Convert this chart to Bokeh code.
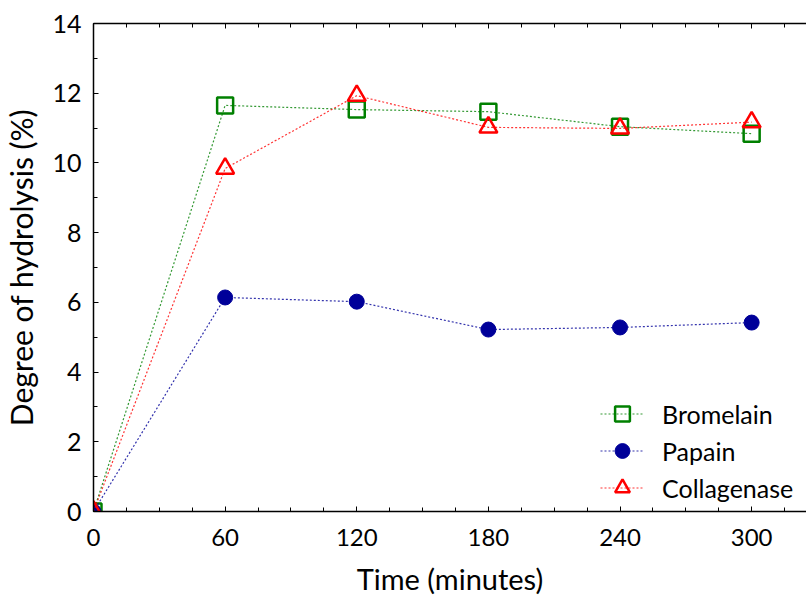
from bokeh.plotting import figure
from bokeh.models import (LinearAxis, SingleIntervalTicker, Range1d, Legend, LegendItem, Title,
                          CustomJSTickFormatter)
from bokeh.embed import file_html
from bokeh.resources import INLINE

# ---- data ----
time_min = [0, 60, 120, 180, 240, 300]
bromelain = [0.0, 11.65, 11.53, 11.47, 11.04, 10.84]
papain = [0.0, 6.14, 6.02, 5.22, 5.28, 5.42]
collagenase = [0.0, 9.84, 11.93, 11.02, 10.99, 11.17]
series_names = ["Bromelain", "Papain", "Collagenase"]
x_label = "Time (minutes)"
y_label = "Degree of hydrolysis (%)"

FONT = "Lato"
GREEN = "#008000"
BLUE = "#000099"
RED = "#ff0000"

p = figure(width=806, height=602, output_backend="svg", toolbar_location=None,
           x_range=Range1d(0, 325), y_range=Range1d(0, 14),
           min_border_left=93, min_border_right=0, min_border_top=23, min_border_bottom=91,
           x_axis_location=None, y_axis_location=None)
p.outline_line_color = None
p.xgrid.visible = False
p.ygrid.visible = False
p.background_fill_color = "white"
p.border_fill_color = "white"

xt = SingleIntervalTicker(interval=60, num_minor_ticks=4)
yt = SingleIntervalTicker(interval=2, num_minor_ticks=2)

def style(ax):
    ax.axis_line_color = "black"
    ax.axis_line_width = 1.5
    ax.major_tick_in = 5
    ax.major_tick_out = 0
    ax.minor_tick_in = 4
    ax.minor_tick_out = 0
    ax.major_tick_line_color = "black"
    ax.minor_tick_line_color = "black"
    ax.major_label_text_font = FONT
    ax.major_label_text_font_size = "24px"
    ax.major_label_text_color = "black"
    ax.axis_label_text_font = FONT
    ax.axis_label_text_font_style = "normal"
    ax.axis_label_text_color = "black"

xb = LinearAxis(ticker=xt, axis_label=x_label)
style(xb)
xb.major_label_standoff = 17
xb.axis_label_text_font_size = "29px"
xb.axis_label_standoff = 12
p.add_layout(xb, "below")

xa = LinearAxis(ticker=xt, formatter=CustomJSTickFormatter(code="return ''"))
style(xa)
xa.major_label_standoff = 0
p.add_layout(xa, "above")

yl = LinearAxis(ticker=yt, axis_label=y_label)
style(yl)
yl.major_label_text_font_size = "25px"
yl.major_label_standoff = 12
yl.axis_label_text_font_size = "30px"
yl.axis_label_standoff = 10
p.add_layout(yl, "left")

# ---- series ----
lb = p.line(time_min, bromelain, line_color=GREEN, line_width=1.2, line_dash="2 2", line_alpha=0.8)
mb = p.scatter(time_min, bromelain, marker="square", size=16, line_color=GREEN, line_width=2.5,
               fill_color=None)
lp = p.line(time_min, papain, line_color=BLUE, line_width=1.2, line_dash="2 2", line_alpha=0.8)
mp = p.scatter(time_min, papain, marker="circle", size=15, line_color=BLUE, fill_color=BLUE)
lc = p.line(time_min, collagenase, line_color=RED, line_width=1.2, line_dash="2 2", line_alpha=0.8)
mc = p.scatter(time_min, collagenase, marker="triangle", size=18, line_color=RED, line_width=2.5,
               fill_color=None)

legend = Legend(items=[
    LegendItem(label=series_names[0], renderers=[lb, mb]),
    LegendItem(label=series_names[1], renderers=[lp, mp]),
    LegendItem(label=series_names[2], renderers=[lc, mc]),
], location=(507, 5))
legend.border_line_color = None
legend.background_fill_alpha = 0
legend.padding = 0
legend.margin = 0
legend.spacing = 0
legend.glyph_width = 44
legend.glyph_height = 37
legend.label_height = 37
legend.label_standoff = 18
legend.label_text_font = FONT
legend.label_text_font_size = "25px"
legend.label_text_color = "black"
p.add_layout(legend, "center")

open("out.html", "w").write(file_html(p, INLINE))
